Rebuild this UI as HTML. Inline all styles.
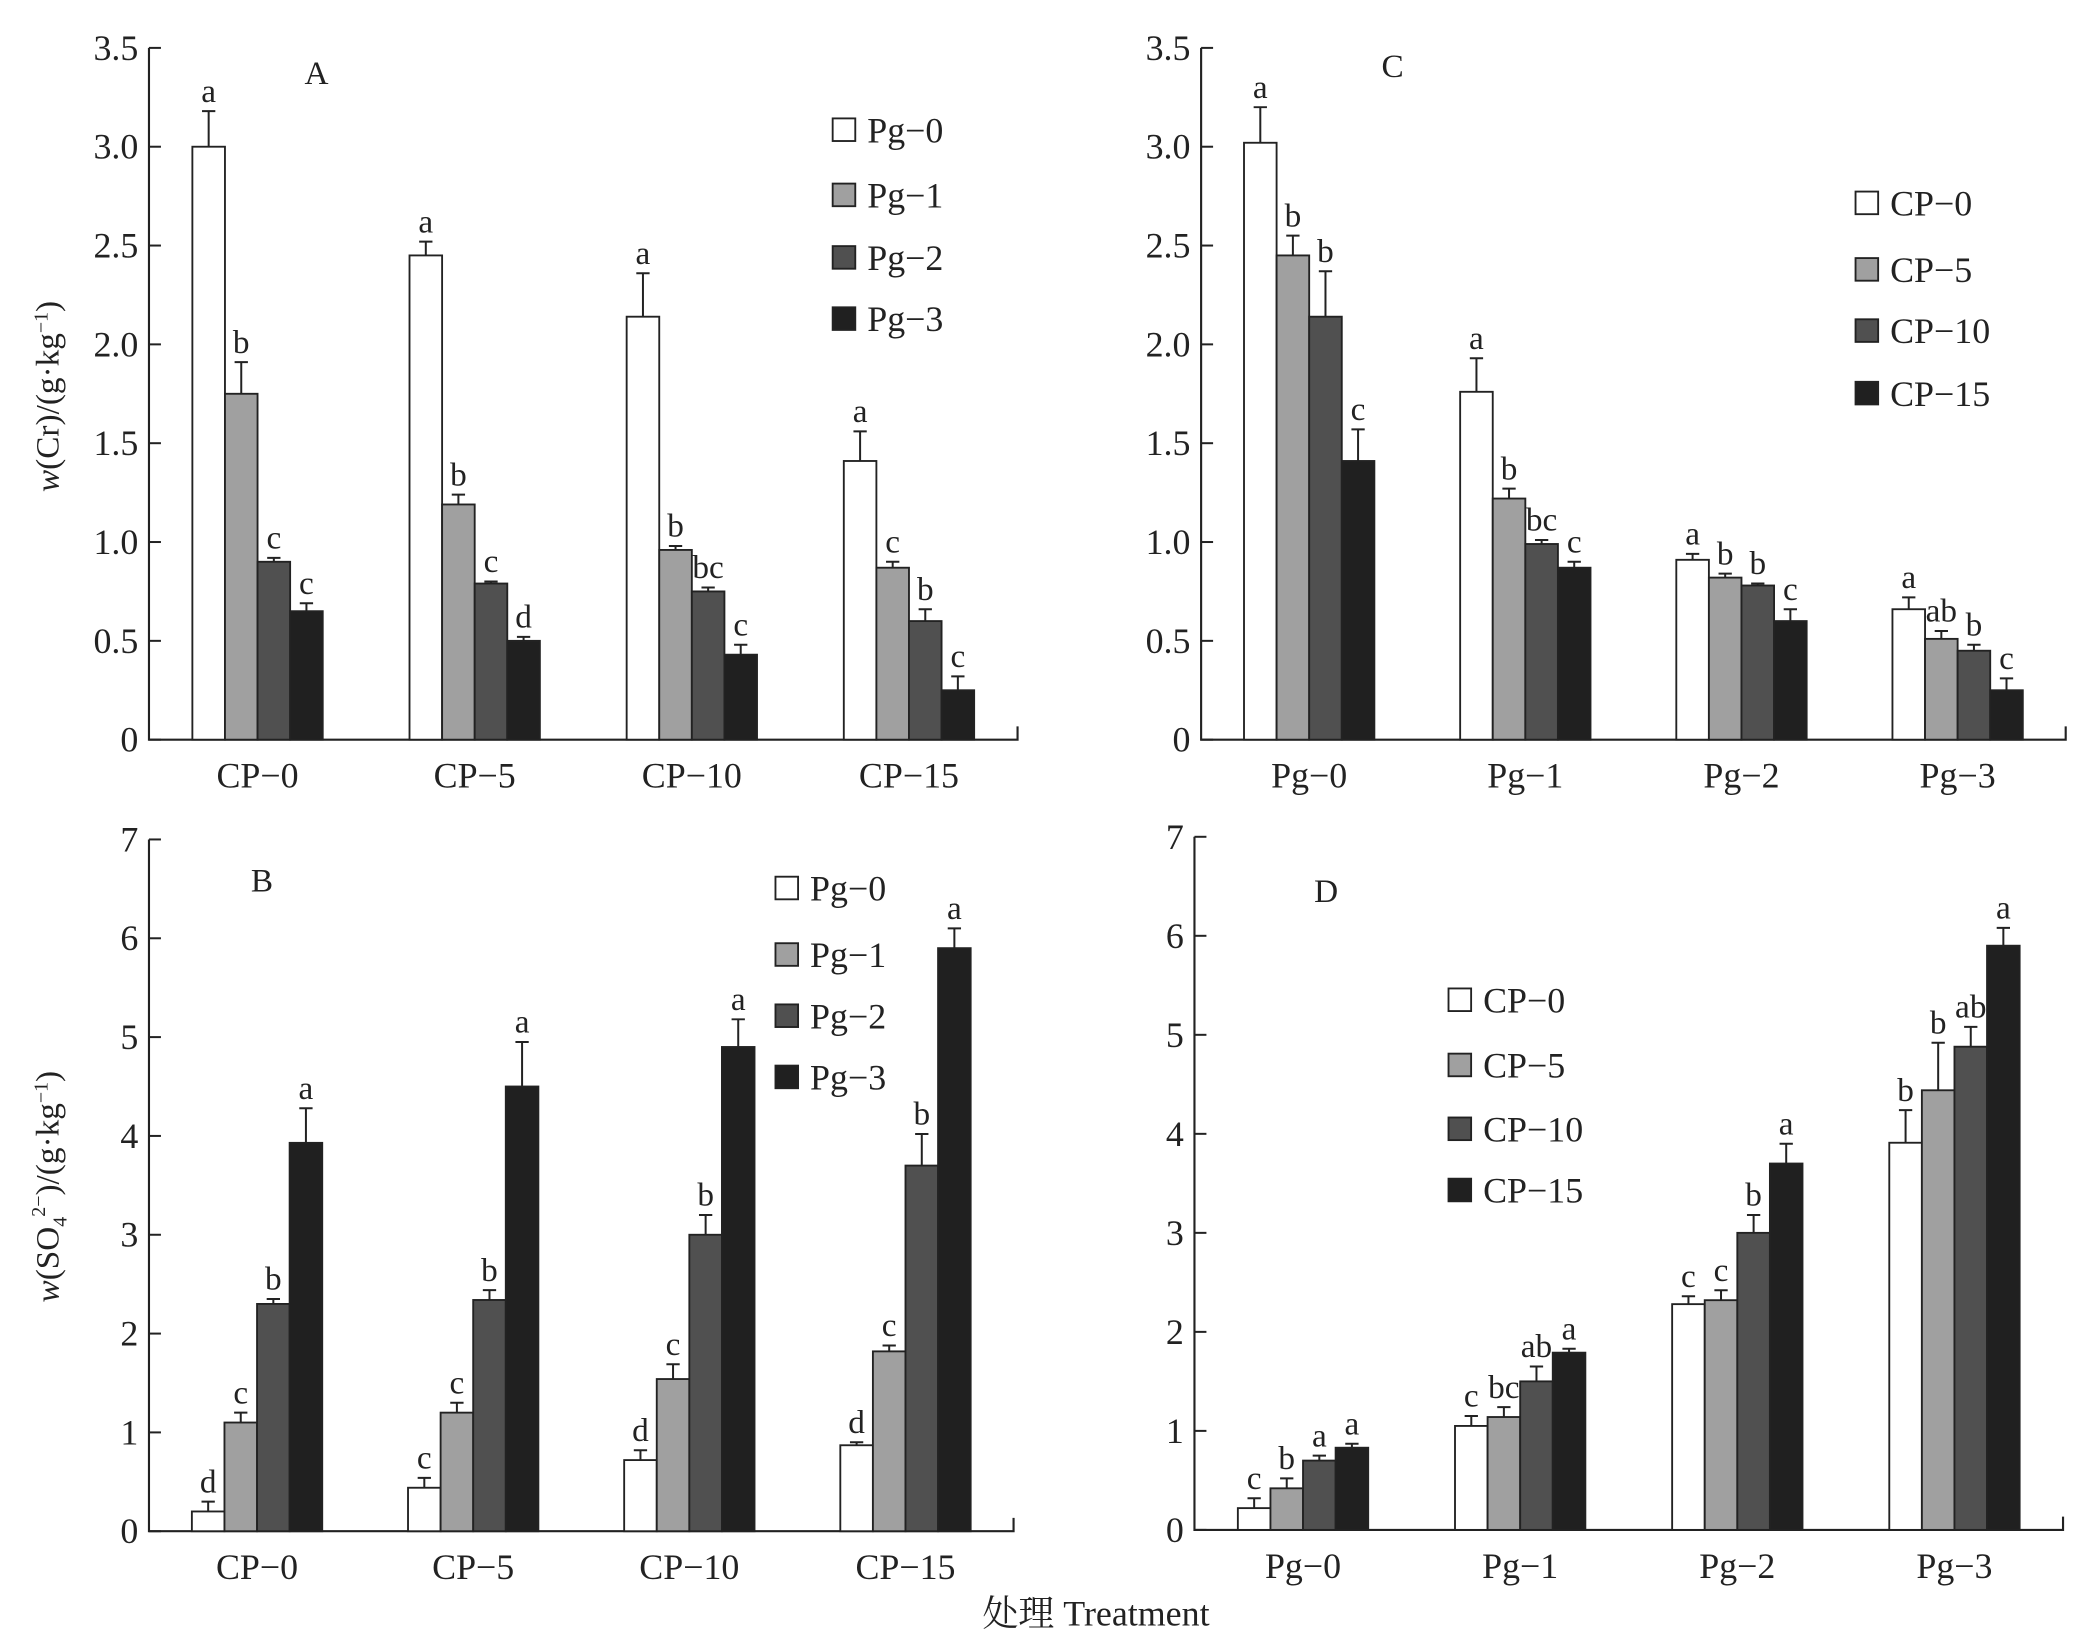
<!DOCTYPE html>
<html><head><meta charset="utf-8"><style>
html,body{margin:0;padding:0;background:#fff;}
svg{display:block;}
text{font-family:"Liberation Serif","Noto Serif CJK SC",serif;fill:#222;}
</style></head>
<body>
<svg id="fig" width="2079" height="1635" viewBox="0 0 1563 1229" preserveAspectRatio="none" xmlns="http://www.w3.org/2000/svg">
<text x="824" y="1222" font-size="27" text-anchor="middle">处理 Treatment</text>
<text transform="translate(44,298) rotate(-90)" font-size="25" text-anchor="middle"><tspan font-style="italic">w</tspan>(Cr)/(g·kg<tspan baseline-shift="super" font-size="15">−1</tspan>)</text>
<text transform="translate(44,892) rotate(-90)" font-size="25" text-anchor="middle"><tspan font-style="italic">w</tspan>(SO<tspan font-size="15" dy="6">4</tspan><tspan font-size="15" dy="-16">2−</tspan><tspan dy="10">)/(g·kg</tspan><tspan baseline-shift="super" font-size="15">−1</tspan>)</text>
</svg>
<script>
const colors = ['#ffffff','#a0a0a0','#505050','#202020'];
// Panel A
const catA = ['CP-0','CP-5','CP-10','CP-15'];
const serA = ['Pg-0','Pg-1','Pg-2','Pg-3'];
const valA = [[3.0,1.75,0.9,0.65],[2.45,1.19,0.79,0.5],[2.14,0.96,0.75,0.43],[1.41,0.87,0.6,0.25]];
const errA = [[0.18,0.16,0.02,0.04],[0.07,0.05,0.01,0.02],[0.22,0.02,0.02,0.05],[0.15,0.03,0.06,0.07]];
const letA = [['a','b','c','c'],['a','b','c','d'],['a','b','bc','c'],['a','c','b','c']];
const ticksA = ['0','0.5','1.0','1.5','2.0','2.5','3.0','3.5'];
// Panel C
const catC = ['Pg-0','Pg-1','Pg-2','Pg-3'];
const serC = ['CP-0','CP-5','CP-10','CP-15'];
const valC = [[3.02,2.45,2.14,1.41],[1.76,1.22,0.99,0.87],[0.91,0.82,0.78,0.6],[0.66,0.51,0.45,0.25]];
const errC = [[0.18,0.1,0.23,0.16],[0.17,0.05,0.02,0.03],[0.03,0.02,0.01,0.06],[0.06,0.04,0.03,0.06]];
const letC = [['a','b','b','c'],['a','b','bc','c'],['a','b','b','c'],['a','ab','b','c']];
// Panel B
const catB = ['CP-0','CP-5','CP-10','CP-15'];
const serB = ['Pg-0','Pg-1','Pg-2','Pg-3'];
const valB = [[0.2,1.1,2.3,3.93],[0.44,1.2,2.34,4.5],[0.72,1.54,3.0,4.9],[0.87,1.82,3.7,5.9]];
const errB = [[0.1,0.1,0.05,0.35],[0.1,0.1,0.1,0.45],[0.1,0.15,0.2,0.28],[0.03,0.06,0.32,0.2]];
const letB = [['d','c','b','a'],['c','c','b','a'],['d','c','b','a'],['d','c','b','a']];
const ticksB = ['0','1','2','3','4','5','6','7'];
// Panel D
const catD = ['Pg-0','Pg-1','Pg-2','Pg-3'];
const serD = ['CP-0','CP-5','CP-10','CP-15'];
const valD = [[0.22,0.42,0.7,0.83],[1.05,1.14,1.5,1.79],[2.28,2.32,3.0,3.7],[3.91,4.44,4.88,5.9]];
const errD = [[0.1,0.1,0.05,0.04],[0.1,0.1,0.15,0.04],[0.08,0.1,0.18,0.2],[0.33,0.48,0.2,0.18]];
const letD = [['c','b','a','a'],['c','bc','ab','a'],['c','c','b','a'],['b','b','ab','a']];

const NS='http://www.w3.org/2000/svg';
const svg=document.getElementById('fig');
function mk(tag,attrs,parent){const e=document.createElementNS(NS,tag);for(const k in attrs)e.setAttribute(k,attrs[k]);(parent||svg).appendChild(e);return e;}

function panel(cfg){
  const g=mk('g',{});
  
  
  const {x0,x1,yTop,yBot,ymax,ticks,cats,vals,errs,lets,series}=cfg;
  const yS=v=>yBot-(v/ymax)*(yBot-yTop);
  const slot=(x1-x0)/cats.length;
  const bw=24.5;
  // axes
  const ax=mk('path',{d:`M${x0},${yTop} L${x0},${yBot} L${x1},${yBot} L${x1},${yBot-10}`,stroke:'#222','stroke-width':1.6,fill:'none'},g);
  
  
  ticks.forEach((t,i)=>{
    const v=i*ymax/(ticks.length-1);const y=yS(v);
    mk('line',{x1:x0,x2:x0+9,y1:y,y2:y,stroke:'#222','stroke-width':1.5},g);
    const tx=mk('text',{x:x0-8,y:y+9,'font-size':27,'text-anchor':'end'},g);
    tx.textContent=t;
    
    
  });
  cats.forEach((c,ci)=>{
    const cx=x0+slot*(ci+0.5);
    const lab=mk('text',{x:cx,y:yBot+36,'font-size':27,'text-anchor':'middle'},g);
    lab.textContent=c.replace('-','−');
    
    
    vals[ci].forEach((v,si)=>{
      const bx=cx-2*bw+si*bw;
      const yt=yS(v);
      const r=mk('rect',{x:bx,y:yt,width:bw,height:yBot-yt,fill:colors[si],stroke:'#222','stroke-width':1.4},g);
      
      
      const ye=yS(v+errs[ci][si]);const mx=bx+bw/2;
      mk('path',{d:`M${mx},${yt} L${mx},${ye} M${mx-5},${ye} L${mx+5},${ye}`,stroke:'#222','stroke-width':1.5,fill:'none'},g);
      const lt=mk('text',{x:mx,y:ye-7,'font-size':25,'text-anchor':'middle'},g);
      lt.textContent=lets[ci][si];
      
      
    });
  });
  const tt=mk('text',{x:cfg.title[0],y:cfg.title[1],'font-size':25,'text-anchor':'middle'},g);
  tt.textContent=cfg.id;
  
  
  series.forEach((s,si)=>{
    const ly=cfg.leg[1]+cfg.legY[si];
    const lr=mk('rect',{x:cfg.leg[0],y:ly-9,width:17,height:17,fill:colors[si],stroke:'#222','stroke-width':1.4},g);
    
    
    const lt=mk('text',{x:cfg.leg[0]+26,y:ly+9,'font-size':27},g);
    lt.textContent=s.replace('-','−');
    
    
  });
}
panel({id:'A',x0:112,x1:765,yTop:36,yBot:556,ymax:3.5,ticks:ticksA,cats:catA,vals:valA,errs:errA,lets:letA,series:serA,title:[238,63],leg:[626,98],legY:[0,49,96,142]});
panel({id:'C',x0:903,x1:1553,yTop:36,yBot:556,ymax:3.5,ticks:ticksA,cats:catC,vals:valC,errs:errC,lets:letC,series:serC,title:[1047,58],leg:[1395,153],legY:[0,50,96,143]});
panel({id:'B',x0:112,x1:762,yTop:631,yBot:1151,ymax:7,ticks:ticksB,cats:catB,vals:valB,errs:errB,lets:letB,series:serB,title:[197,670],leg:[583,668],legY:[0,50,96,142]});
panel({id:'D',x0:898,x1:1551,yTop:629,yBot:1150,ymax:7,ticks:ticksB,cats:catD,vals:valD,errs:errD,lets:letD,series:serD,title:[997,678],leg:[1089,752],legY:[0,49,97,143]});
</script>
</body></html>
